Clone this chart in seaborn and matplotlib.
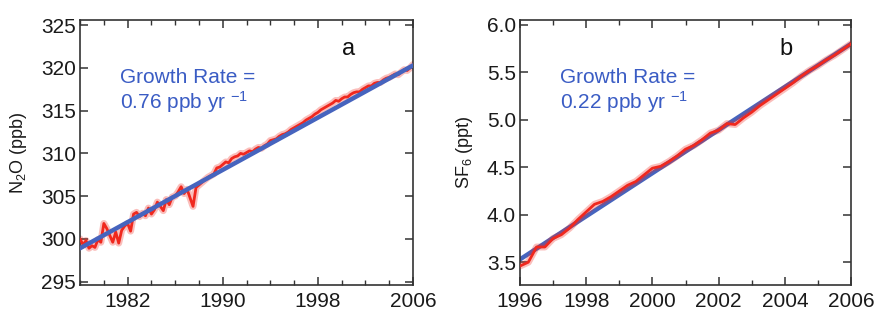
import numpy as np
import pandas as pd
import seaborn as sns
import matplotlib.pyplot as plt
from matplotlib.ticker import MultipleLocator

# N2O record, quarterly (ppb)
n2o_year = np.arange(1978.0, 2006.01, 0.25)
n2o_ppb = [
    300.0, 299.3, 299.8, 298.9, 299.2, 299.0, 299.9, 299.6,
    301.8, 301.2, 300.4, 299.6, 300.8, 299.5, 301.0, 301.5,
    301.8, 300.9, 302.9, 303.1, 302.6, 303.0, 302.7, 303.6,
    302.9, 303.4, 304.3, 303.8, 303.3, 304.6, 304.0, 304.9,
    305.0, 305.5, 306.1, 305.3, 305.8, 304.8, 303.8, 306.0,
    306.3, 306.6, 306.9, 307.2, 307.4, 307.6, 308.3, 308.4,
    308.7, 309.0, 308.9, 309.4, 309.6, 309.7, 310.0, 309.9,
    310.1, 310.3, 310.2, 310.5, 310.7, 310.6, 310.9, 311.1,
    311.5, 311.6, 311.7, 312.0, 312.2, 312.3, 312.5, 312.8,
    313.0, 313.2, 313.4, 313.6, 313.9, 314.1, 314.3, 314.6,
    314.8, 315.1, 315.3, 315.5, 315.7, 315.9, 316.2, 316.1,
    316.4, 316.6, 316.6, 316.9, 317.1, 317.2, 317.2, 317.5,
    317.7, 317.9, 317.9, 318.2, 318.3, 318.3, 318.6, 318.8,
    318.9, 319.1, 319.3, 319.2, 319.5, 319.8, 319.7, 320.0,
    320.4,
]

# SF6 record, quarterly (ppt)
sf6_year = np.arange(1996.0, 2006.01, 0.25)
sf6_ppt = [
    3.46, 3.50, 3.66, 3.66, 3.75, 3.79, 3.86, 3.95,
    4.03, 4.11, 4.14, 4.19, 4.25, 4.31, 4.35, 4.42,
    4.49, 4.51, 4.56, 4.62, 4.69, 4.73, 4.79, 4.86,
    4.89, 4.96, 4.95, 5.02, 5.08, 5.15, 5.21, 5.27,
    5.33, 5.39, 5.46, 5.52, 5.57, 5.63, 5.68, 5.74,
    5.80,
]

# linear growth lines (end points)
n2o_trend_year = [1978, 2006]
n2o_trend = [298.9, 320.3]
sf6_trend_year = [1996, 2006]
sf6_trend = [3.53, 5.80]

rates = ['0.76 ppb yr $^{-1}$', '0.22 ppb yr $^{-1}$']

sns.set_style('ticks')
plt.rcParams['font.family'] = ['Liberation Sans', 'DejaVu Sans']
plt.rcParams['mathtext.fontset'] = 'custom'
plt.rcParams['mathtext.rm'] = 'Liberation Sans'
plt.rcParams['mathtext.it'] = 'Liberation Sans'

red = '#f0281e'
blue = '#4664be'
txt_blue = '#3a5cc4'
dark = '#1a1a1a'

fig = plt.figure(figsize=(8.74, 3.14), dpi=100)
ax_a = fig.add_axes([0.0916, 0.0924, 0.3810, 0.8436])
ax_b = fig.add_axes([0.5950, 0.0924, 0.3787, 0.8436])

# panel a: growth line drawn over the record
sns.lineplot(x=n2o_year, y=n2o_ppb, ax=ax_a, color=red, lw=5, alpha=0.3, zorder=2)
sns.lineplot(x=n2o_year, y=n2o_ppb, ax=ax_a, color=red, lw=2, zorder=3)
sns.lineplot(x=n2o_trend_year, y=n2o_trend, ax=ax_a, color=blue, lw=3.2, zorder=4)

# panel b: record drawn over the growth line
sns.lineplot(x=sf6_trend_year, y=sf6_trend, ax=ax_b, color=blue, lw=3.2, zorder=2)
sns.lineplot(x=sf6_year, y=sf6_ppt, ax=ax_b, color=red, lw=5, alpha=0.3, zorder=3)
sns.lineplot(x=sf6_year, y=sf6_ppt, ax=ax_b, color=red, lw=2, zorder=4)

ax_a.set_xlim(1978, 2006)
ax_a.set_ylim(294.6, 325.6)
ax_a.set_xticks([1982, 1990, 1998, 2006])
ax_a.xaxis.set_minor_locator(MultipleLocator(2))
ax_a.yaxis.set_major_locator(MultipleLocator(5))

ax_b.set_xlim(1996, 2006)
ax_b.set_ylim(3.26, 6.05)
ax_b.xaxis.set_major_locator(MultipleLocator(2))
ax_b.xaxis.set_minor_locator(MultipleLocator(1))
ax_b.yaxis.set_major_locator(MultipleLocator(0.5))
ax_b.yaxis.set_major_formatter(plt.FormatStrFormatter('%.1f'))

ylabels = ['N$_2$O (ppb)', 'SF$_6$ (ppt)']
ylab_x = [-0.154, -0.136]
letters = ['a', 'b']
for i, ax in enumerate([ax_a, ax_b]):
    ax.set_xlabel('')
    ax.set_ylabel(ylabels[i], fontsize=13, color=dark)
    ax.yaxis.set_label_coords(ylab_x[i], 0.5)
    for s in ax.spines.values():
        s.set_visible(True)
        s.set_linewidth(1.2)
        s.set_color('#333333')
    ax.tick_params(which='both', direction='in', top=True, right=True,
                   colors='#333333', labelcolor=dark, labelsize=15)
    ax.tick_params(which='major', length=6, width=1.1)
    ax.tick_params(which='minor', length=3.5, width=1.0)
    ax.tick_params(axis='x', pad=5)
    ax.tick_params(axis='y', pad=3)
    ax.text(0.12, 0.783, 'Growth Rate =', transform=ax.transAxes, color=txt_blue,
            fontsize=15, va='center', ha='left')
    ax.text(0.12, 0.69, rates[i], transform=ax.transAxes, color=txt_blue,
            fontsize=15, va='center', ha='left')
    ax.text(0.805, 0.89, letters[i], transform=ax.transAxes, color='#111111',
            fontsize=17, va='center', ha='center')
    ax.set_facecolor('white')

fig.savefig('out.png', dpi=100, facecolor='white')
